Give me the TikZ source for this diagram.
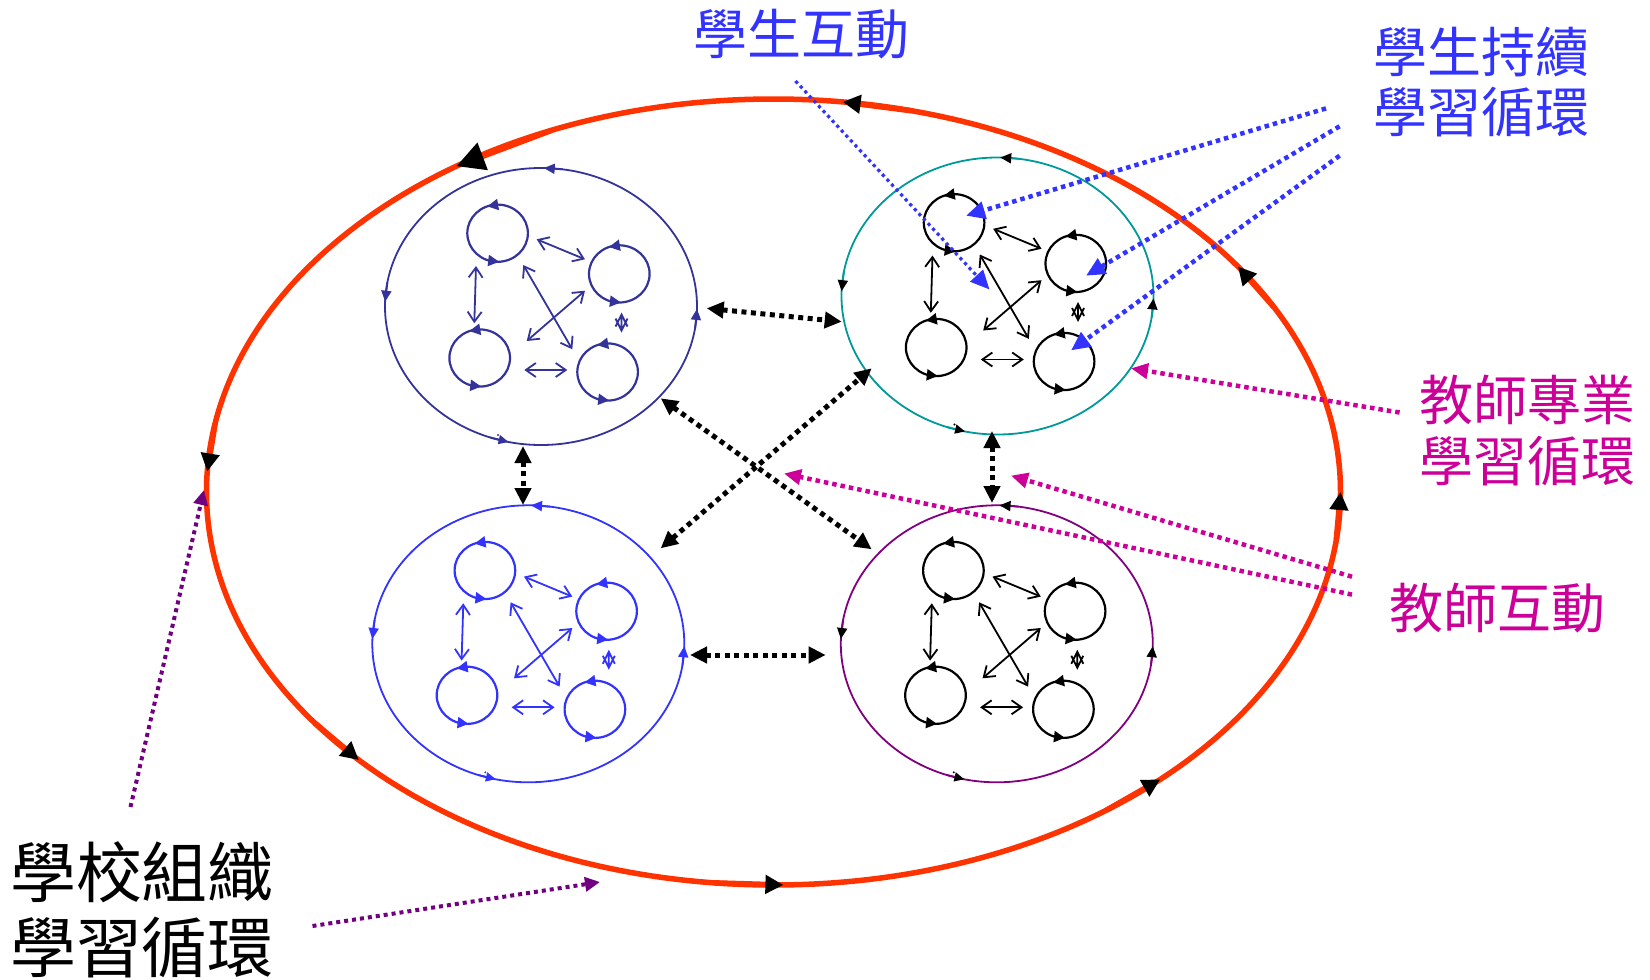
\documentclass[tikz,border=0pt]{standalone}
\usepackage{fontspec}
\newfontfamily\cjk{Noto Sans CJK TC}
\usetikzlibrary{arrows.meta,shapes.geometric}

\definecolor{loopred}{RGB}{255,51,0}
\definecolor{navy}{RGB}{51,51,153}
\definecolor{teamteal}{RGB}{0,153,153}
\definecolor{teamblue}{RGB}{51,51,255}
\definecolor{teampurple}{RGB}{128,0,128}
\definecolor{teachmag}{RGB}{204,0,153}
\definecolor{schoolpurple}{RGB}{112,0,128}

% short chord on an ellipse (cx,cy,rx,ry) from angle #5 to angle #6, used to seat an arrow tip on the curve
\newcommand\tipat[7]{%
  \draw[#7] ({#1+#3*cos(#5)},{#2+#4*sin(#5)}) -- ({#1+#3*cos(#6)},{#2+#4*sin(#6)});}

% one team: ring, four member loops and the links between them
\newcommand\teamgroup[5]{% name, x, y, ring colour, inner colour
\begin{scope}[shift={(#2,#3)}]
  \node[ring, draw=#4] (#1) at (0,0) {};
  \tipat{0}{0}{156}{138.5}{-82}{-89}{#4, line width=1.8pt, -{Triangle[length=11pt,width=10pt,#5]}}
  \tipat{0}{0}{156}{138.5}{190}{182}{#4, line width=1.8pt, -{Triangle[length=11pt,width=10pt,#5]}}
  \tipat{0}{0}{156}{138.5}{9}{1}{#4, line width=1.8pt, -{Triangle[length=11pt,width=10pt,#5]}}
  \tipat{0}{0}{156}{138.5}{109}{102}{#4, line width=1.8pt, -{Triangle[length=10pt,width=9pt,#5]}}
  \fill[#5] (-43,128.5) circle [radius=1.1];
  \foreach \px/\py in {-43.4/-73.3, 78.3/-32.6, -61.3/51.5, 66.6/65.5}{
    \draw[#5, line width=2.2pt] (\px,\py) ellipse [x radius=30.3, y radius=28.6];
    \tipat{\px}{\py}{30.3}{28.6}{-90}{-110}{#5, line width=2.2pt, -{Triangle[length=11pt,width=11pt]}}
    \tipat{\px}{\py}{30.3}{28.6}{107}{87}{#5, line width=2.2pt, -{Triangle[length=11pt,width=11pt]}}
  }
  \draw[link, #5] (-4.3,-67.2) -- (44,-47.2);
  \draw[link, #5] (-65,-40.5) -- (-66.7,16.8);
  \draw[link, #5] (-17.7,-41.5) -- (31.3,42.8);
  \draw[link, #5] (-14.3,34.5) -- (44,-15.8);
  \draw[link, #5] (-16.7,63.5) -- (26.3,63.5);
  % collapsed two-way link
  \draw[#5, line width=1.8pt, line join=miter]
    (80.5,8) -- (80.5,24)
    (74.5,20) -- (80.5,8) -- (86.5,20)
    (74.5,12) -- (80.5,24) -- (86.5,12);
\end{scope}}

\tikzset{
  ring/.style={ellipse, minimum width=312pt, minimum height=277pt, inner sep=0pt, line width=1.8pt},
  link/.style={line width=1.8pt, {Straight Barb[length=10pt,width=14pt]}-{Straight Barb[length=10pt,width=14pt]}},
  teamlink/.style={black, line width=5pt, dash pattern=on 5pt off 4.5pt,
    {Triangle[length=17pt,width=16pt]}-{Triangle[length=17pt,width=16pt]}},
  bigtip/.style={-{Triangle[length=#1,width=#1,black]}},
  bigtip/.default=18pt,
  studentline/.style={teamblue, line width=4.5pt, dash pattern=on 4.5pt off 4pt,
    -{Triangle[length=19pt,width=17pt]}},
  teacherline/.style={teachmag, line width=4.5pt, dash pattern=on 4.5pt off 4pt,
    -{Triangle[length=17pt,width=15pt]}},
  schoolline/.style={schoolpurple, line width=4pt, dash pattern=on 4pt off 4pt,
    -{Triangle[length=15pt,width=14pt]}},
  caption/.style={inner sep=0pt, align=center},
}

\begin{document}
\begin{tikzpicture}[x=1pt, y=-1pt]
\useasboundingbox (0,0) rectangle (1650,980);

% school-wide learning loop
\coordinate (sc) at (773.5,492);
\draw[loopred, line width=5.5pt] (sc) ellipse [x radius=567, y radius=393];
\foreach \ta/\tb in {-76/-83, -170/-177, 144/137, 96/89, 54/47, 7/0, -28/-35}{
  \tipat{773.5}{492}{567}{393}{\ta}{\tb}{loopred, line width=5.5pt, bigtip}
}
\tipat{773.5}{492}{567}{393}{-113}{-124}{loopred, line width=5.5pt, bigtip=28pt}

% four teams
\teamgroup{tl}{541}{306.5}{navy}{navy}
\teamgroup{tr}{997.5}{296}{teamteal}{black}
\teamgroup{bl}{528.3}{643.8}{teamblue}{teamblue}
\teamgroup{br}{996.8}{643.8}{teampurple}{black}

% links between teams
\coordinate (tlE) at (706.7,308.3);  \coordinate (trW) at (841.7,321.7);
\coordinate (tlSE) at (660.7,398.3); \coordinate (brNW) at (871.7,549.3);
\coordinate (blNE) at (660.7,548.3); \coordinate (trSW) at (871.7,368.3);
\coordinate (blE) at (690,655);      \coordinate (brW) at (825.7,655);
\coordinate (tlS) at (523,446);      \coordinate (blN) at (523,505);
\coordinate (trS) at (992,431);      \coordinate (brN) at (992,503);
\draw[teamlink] (tlE) -- (trW);
\draw[teamlink] (tlSE) -- (brNW);
\draw[teamlink] (blNE) -- (trSW);
\draw[teamlink] (blE) -- (brW);
\draw[teamlink] (tlS) -- (blN);
\draw[teamlink] (trS) -- (brN);

% captions
\node[caption, text=teamblue, font=\cjk\fontsize{54pt}{60pt}\selectfont] (stuint) at (801,34) {學生互動};
\node[caption, text=teamblue, font=\cjk\fontsize{54pt}{60pt}\selectfont] (stuloop) at (1481.5,82.5) {學生持續\\學習循環};
\node[caption, text=teachmag, font=\cjk\fontsize{54pt}{61pt}\selectfont] (tealoop) at (1527,430.5) {教師專業\\學習循環};
\node[caption, text=teachmag, font=\cjk\fontsize{54pt}{60pt}\selectfont] (teaint) at (1497,607.7) {教師互動};
\node[caption, text=black, font=\cjk\fontsize{66pt}{75pt}\selectfont] (schloop) at (142,910) {學校組織\\學習循環};

% pointers from captions
\coordinate (s0) at (795.5,81);   \coordinate (s0e) at (989.5,289.5);
\coordinate (s1) at (1326,108.4); \coordinate (s1e) at (966,215.7);
\coordinate (s2) at (1339.6,126.3); \coordinate (s2e) at (1086,275.7);
\coordinate (s3) at (1339.6,155.7); \coordinate (s3e) at (1071,350.4);
\draw[studentline, line width=3.2pt, dash pattern=on 3.2pt off 3.5pt] (s0) -- (s0e);
\draw[studentline] (s1) -- (s1e);
\draw[studentline] (s2) -- (s2e);
\draw[studentline] (s3) -- (s3e);

\coordinate (t1) at (1399.6,412.5); \coordinate (t1e) at (1131,368.3);
\coordinate (t2) at (1352,576.7);   \coordinate (t2e) at (1011,475.6);
\coordinate (t3) at (1352,594.6);   \coordinate (t3e) at (784,473.5);
\draw[teacherline] (t1) -- (t1e);
\draw[teacherline] (t2) -- (t2e);
\draw[teacherline] (t3) -- (t3e);

\coordinate (o1) at (130.5,807);  \coordinate (o1e) at (204,490);
\coordinate (o2) at (312.5,926);  \coordinate (o2e) at (600,882);
\draw[schoolline] (o1) -- (o1e);
\draw[schoolline] (o2) -- (o2e);
\end{tikzpicture}
\end{document}
